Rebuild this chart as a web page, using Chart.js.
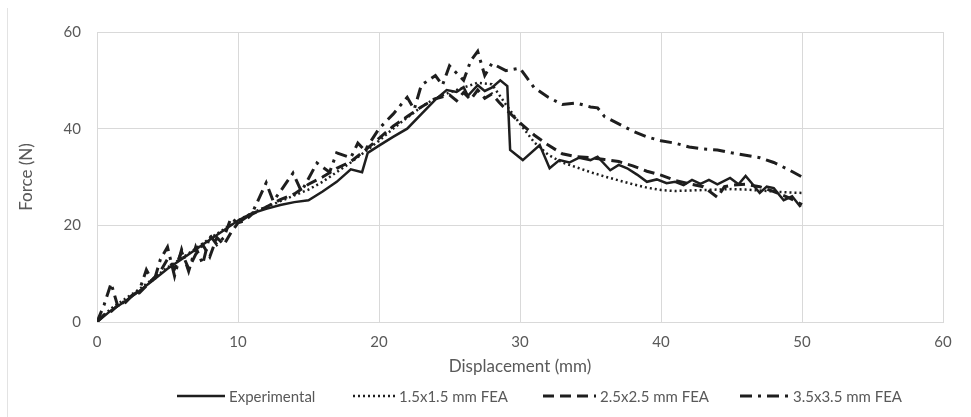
<!DOCTYPE html>
<html>
<head>
<meta charset="utf-8">
<script src="https://cdn.jsdelivr.net/npm/chart.js@4.4.1/dist/chart.umd.min.js"></script>
<style>
  html, body { margin: 0; padding: 0; background: #fff; }
  #wrap { position: relative; width: 971px; height: 417px; }
  #edge { position: absolute; left: 7px; top: 8px; bottom: 0; width: 1px; background: #e3e3e3; }
  #legenda { position: absolute; left: 0; top: 386px; width: 971px; height: 20px;
             font: 15px Lato, "Noto Sans", sans-serif; color: #595959; }
  #legenda .item { position: absolute; top: 0; height: 20px; display: flex; align-items: center; white-space: nowrap; }
  #legenda svg { display: block; margin-right: 4px; }
</style>
</head>
<body>
<div id="wrap">
  <div id="edge"></div>
  <canvas id="grafico"></canvas>
  <div id="legenda"></div>
</div>
<script>
// Dados: [deslocamento (mm), força (N)]
const experimental = [
  [0,0],[1,2.4],[2,4.3],[3,6.4],[4,8.7],[5,11],[6,13],[7,15],[8,17],[9,19],[10,21],
  [11,22.5],[12,23.4],[13,24.2],[14,24.8],[15,25.2],[16,27],[17,29],[18,31.6],[18.8,31],
  [19.2,35],[20,36.5],[21,38.3],[22,40],[23,43],[24,46],[24.8,48],[25.5,47.6],[26,48.6],
  [26.3,46.8],[27,49],[27.5,47.8],[28,48.5],[28.6,50],[29.1,48.8],[29.3,35.6],[30.2,33.5],
  [31.4,36.6],[32.1,31.8],[32.8,33.5],[33.5,33],[34.2,34],[35,33.5],[35.5,34.2],[36.4,31.4],
  [37,32.5],[37.6,31.8],[38.3,30.5],[39,29],[39.7,29.5],[40.4,28.7],[41,29],[41.6,28.3],
  [42.2,29.4],[42.8,28.6],[43.4,29.4],[44,28.5],[44.9,29.8],[45.5,28.5],[46,30.2],[46.5,28.5],
  [47,26.7],[47.5,28],[48,27.7],[48.7,25.2],[49.3,26],[49.9,23.8]
];
const fea15 = [
  [0,0],[1,2.8],[2,4.8],[3,6.8],[4,9],[5,11.3],[6,13.2],[7,15.2],[8,17.3],[9,19.2],[10,21],
  [11,22.6],[12,23.8],[13,25],[14,26.2],[15,27.4],[16,29],[17,31],[18,33],[19,35.2],[20,37.5],
  [21,40],[22,42.3],[23,44.5],[24,46.3],[25,47.5],[26,48.5],[27,49.5],[28,49.2],[29,45],
  [30,41],[31,37.2],[32,34.6],[33,33],[34,32],[35,31],[36,30.1],[37,29.3],[38,28.5],[39,27.8],
  [40,27.3],[41,27.1],[42,27.2],[43,27.3],[44,27.4],[45,27.5],[46,27.4],[47,27.2],[48,27],
  [49,26.8],[50,26.7]
];
const fea25 = [
  [0,0],[0.5,1.5],[1,2.2],[1.5,3.5],[2,4],[2.5,5.5],[3,6],[3.5,7.5],[4,9],[4.5,10.5],[5,13],
  [5.5,11],[6,14.5],[6.5,11],[7,14],[7.5,16],[8,13.5],[8.5,17.5],[9,16],[9.5,18.5],[10,20.5],
  [10.5,21],[11,22.3],[12,23.8],[13,25.3],[14,26.5],[15,28.5],[16,30],[17,31.8],[18,33.2],
  [19,35.5],[20,38],[21,40.5],[22,42.5],[23,44.5],[24,46.2],[25,47],[25.5,45.8],[26,47.5],
  [26.5,46],[27,48],[27.5,46.3],[28,47.2],[28.5,45.5],[29,44],[30,41.2],[31,38.7],[32,36.6],
  [33,34.8],[34,34.2],[35,34],[36,33.6],[37,33.2],[38,32.3],[39,31.2],[40,30.4],[41,29.3],
  [42,28.6],[43,28],[44,25.8],[44.5,28],[45,28.3],[46,28.5],[47,28],[48,27],[49,25.8],[50,24.3]
];
const fea35 = [
  [0,0],[0.5,3.5],[1,8],[1.5,3],[2,4.5],[3,6.5],[3.5,10.8],[4,8],[4.5,13],[5,15.5],[5.5,9.5],
  [6,15],[6.5,10.5],[7,15.5],[7.5,12],[8,18],[8.5,16],[9,17.5],[9.5,21.5],[10,20.5],[11,22.5],
  [12,28.8],[12.5,25],[13,27],[13.9,30.8],[14.5,27],[15.6,32.9],[16.5,31],[17,35],[18,34],
  [18.5,37],[19,35.5],[20,40],[21,43],[22,46.5],[22.5,44],[23,49],[24,51],[24.5,49],[25,53],
  [26,50],[26.5,54],[27,56],[27.5,51],[28,53.5],[29,52],[30,52.5],[30.5,50.5],[31,48.5],
  [32,46.5],[33,45],[34,45.3],[35,44.5],[35.5,44.3],[36,42.5],[37,41],[38,39.5],[39,38.3],
  [40,37.5],[41,37],[42,36.2],[43,35.8],[44,35.6],[45,35],[46,34.5],[47,34],[48,33],
  [49,31.6],[50,30]
];
const seriesNames = ['Experimental', '1.5x1.5 mm FEA', '2.5x2.5 mm FEA', '3.5x3.5 mm FEA'];
const xTicks = [0, 10, 20, 30, 40, 50, 60];
const yTicks = [0, 20, 40, 60];

const toXY = arr => arr.map(p => ({ x: p[0], y: p[1] }));
const cinza = '#595959';
const grade = '#d9d9d9';
const traco = '#1e1e1e';
const fonte = 'Lato, "Noto Sans", sans-serif';

// estilo de cada série: tracejado, espessura, posição da legenda (x da linha, largura)
const estilos = [
    { dash: [], largura: 2.5, legX: 177, legW: 48 },
    { dash: [2, 3], largura: 2.5, legX: 353, legW: 42 },
    { dash: [11, 6], largura: 3, legX: 543, legW: 53 },
    { dash: [12, 6, 3, 6], largura: 3, legX: 740, legW: 49 }
];

function serie(label, dados, est) {
    return {
        label: label,
        data: toXY(dados),
        borderColor: traco,
        backgroundColor: traco,
        borderWidth: est.largura,
        borderDash: est.dash,
        pointRadius: 0,
        tension: 0,
        fill: false
    };
}

new Chart(document.getElementById('grafico'), {
    type: 'line',
    data: {
        datasets: [
            serie(seriesNames[0], experimental, estilos[0]),
            serie(seriesNames[1], fea15, estilos[1]),
            serie(seriesNames[2], fea25, estilos[2]),
            serie(seriesNames[3], fea35, estilos[3])
        ]
    },
    options: {
        responsive: true,
        maintainAspectRatio: false,
        animation: false,
        layout: { padding: { left: 12, right: 28, top: 32, bottom: 36 } },
        plugins: {
            legend: { display: false },
            tooltip: { enabled: false }
        },
        scales: {
            x: {
                type: 'linear',
                min: 0,
                max: 60,
                afterBuildTicks: s => { s.ticks = xTicks.map(v => ({ value: v })); },
                afterFit: s => { s.height = 59; },
                grid: { color: grade, drawTicks: false },
                border: { color: grade },
                ticks: { color: cinza, padding: 11, font: { family: fonte, size: 15 } },
                title: { display: true, text: 'Displacement (mm)', color: cinza, font: { family: fonte, size: 17 } }
            },
            y: {
                min: 0,
                max: 60,
                afterBuildTicks: s => { s.ticks = yTicks.map(v => ({ value: v })); },
                afterFit: s => { s.width = 85; },
                grid: { color: grade, drawTicks: false },
                border: { color: grade },
                ticks: { color: cinza, padding: 16, font: { family: fonte, size: 15 } },
                title: { display: true, text: 'Force (N)', color: cinza, font: { family: fonte, size: 17 } }
            }
        }
    }
});

// Legenda em HTML com as mesmas linhas tracejadas
const legenda = document.getElementById('legenda');
seriesNames.forEach((nome, i) => {
    const est = estilos[i];
    const item = document.createElement('div');
    item.className = 'item';
    item.style.left = est.legX + 'px';
    item.innerHTML = `
        <svg width="${est.legW}" height="20">
            <line x1="0" y1="10" x2="${est.legW}" y2="10" stroke="${traco}"
                  stroke-width="${est.largura}" stroke-dasharray="${est.dash.join(' ') || 'none'}"/>
        </svg>
        <span>${nome}</span>`;
    legenda.appendChild(item);
});
</script>
</body>
</html>
